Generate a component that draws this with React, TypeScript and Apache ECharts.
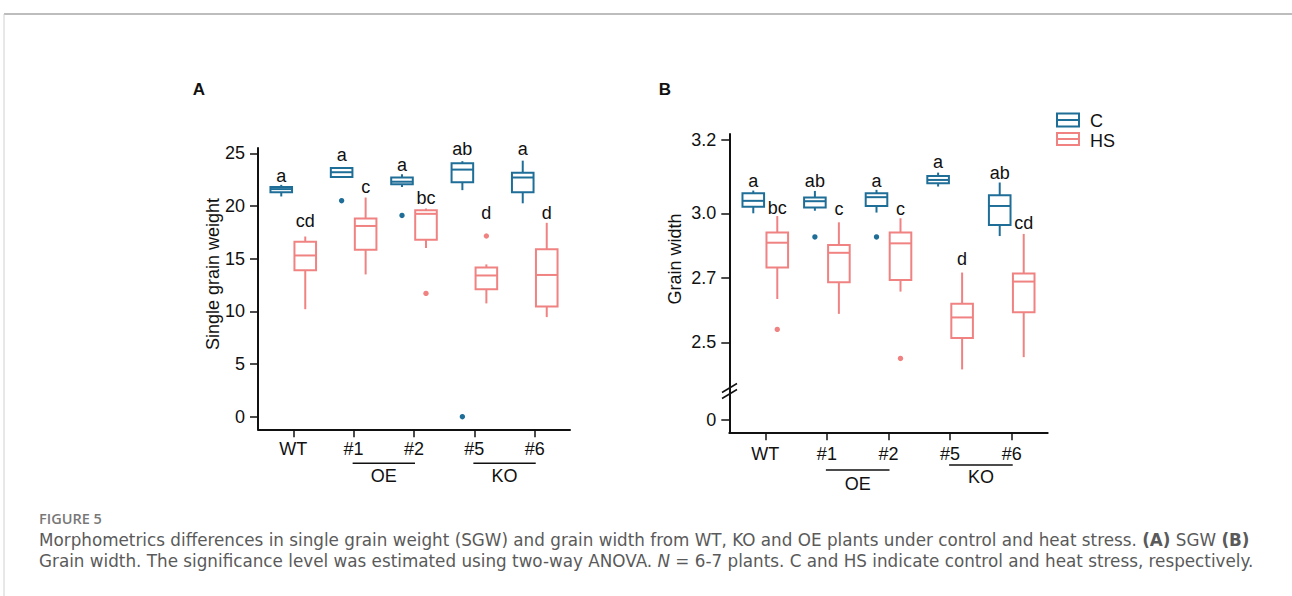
import React, { useEffect, useRef } from "react";
import * as echarts from "echarts";

// ---------- data ----------
const categories = ["WT", "#1", "#2", "#5", "#6"];
const groupNames = ["OE", "KO"];
const groupFrom = [1, 3];
const groupTo = [2, 4];

// Panel A: single grain weight, [min, Q1, median, Q3, max]
const sgwC = [
  [20.9, 21.3, 21.6, 21.8, 22.0],
  [22.7, 22.75, 23.2, 23.6, 23.6],
  [21.8, 22.05, 22.3, 22.7, 23.0],
  [21.5, 22.25, 23.45, 24.05, 24.25],
  [20.25, 21.3, 22.7, 23.15, 24.3],
];
const sgwHS = [
  [10.2, 13.9, 15.3, 16.6, 17.1],
  [13.5, 15.85, 18.1, 18.8, 20.8],
  [16.0, 16.8, 19.25, 19.6, 19.75],
  [10.75, 12.1, 13.4, 14.15, 14.45],
  [9.45, 10.45, 13.45, 15.9, 18.4],
];
const sgwOutC = [[1, 20.5], [2, 19.1], [3, 0]];
const sgwOutHS = [[2, 11.7], [3, 17.15]];
const sgwLettersC = ["a", "a", "a", "ab", "a"];
const sgwLettersHS = ["cd", "c", "bc", "d", "d"];
const sgwLetterAtC = [22.8, 24.8, 23.9, 25.45, 25.45];
const sgwLetterAtHS = [18.6, 21.8, 20.8, 19.3, 19.3];
const sgwTicks = [0, 5, 10, 15, 20, 25];

// Panel B: grain width, [min, Q1, median, Q3, max]
const widthC = [
  [3.0, 3.018, 3.034, 3.055, 3.062],
  [3.007, 3.016, 3.033, 3.043, 3.061],
  [3.002, 3.02, 3.044, 3.055, 3.064],
  [3.073, 3.082, 3.091, 3.102, 3.111],
  [2.894, 2.945, 3.02, 3.049, 3.084],
];
const widthHS = [
  [2.634, 2.748, 2.863, 2.911, 2.987],
  [2.588, 2.686, 2.816, 2.852, 2.958],
  [2.657, 2.693, 2.86, 2.91, 2.977],
  [2.416, 2.513, 2.577, 2.619, 2.724],
  [2.454, 2.593, 2.688, 2.72, 2.904],
];
const widthOutC = [[1, 2.89], [2, 2.89]];
const widthOutHS = [[0, 2.54], [2, 2.45]];
const widthLettersC = ["a", "ab", "a", "a", "ab"];
const widthLettersHS = ["bc", "c", "c", "d", "cd"];
const widthLetterAtC = [3.088, 3.088, 3.088, 3.141, 3.109];
const widthLetterAtHS = [3.015, 3.011, 3.011, 2.787, 2.953];
const widthTicks = [0, 2.5, 2.7, 3.0, 3.2];
const widthTickLabels = ["0", "2.5", "2.7", "3.0", "3.2"];

// ---------- styling / scale helpers ----------
const BLUE = "#1F6E98";
const PINK = "#F08282";
const FONT = "'Liberation Sans', Arial, sans-serif";
const CAP_FONT = "'DejaVu Sans', sans-serif";
const CAP_FS = 16.8;
const FS = 18;

// piecewise scale of the broken grain-width axis (value -> axis units)
const knotsReal = [0, 2.35, 2.5, 2.7, 3.0, 3.2];
const knotsDisp = [0, 29.3, 77.7, 142.3, 206.7, 280];
function brokenScale(v: number): number {
  let i = 0;
  while (i < knotsReal.length - 2 && v > knotsReal[i + 1]) i++;
  const r0 = knotsReal[i], r1 = knotsReal[i + 1];
  const d0 = knotsDisp[i], d1 = knotsDisp[i + 1];
  return d0 + ((v - r0) * (d1 - d0)) / (r1 - r0);
}
const ident = (v: number) => v;

const centered = { align: "center", verticalAlign: "middle", textAlign: "center", textVerticalAlign: "middle" };
const leftMid = { align: "left", verticalAlign: "middle", textAlign: "left", textVerticalAlign: "middle" };

function boxSeries(
  name: string,
  boxes: number[][],
  letters: string[],
  letterAt: number[],
  color: string,
  offset: number,
  axis: number,
  tf: (v: number) => number
) {
  return {
    type: "custom",
    name,
    xAxisIndex: axis,
    yAxisIndex: axis,
    clip: false,
    data: boxes.map((b, i) => [i, ...b.map(tf), tf(letterAt[i])]),
    encode: { x: 0, y: [1, 2, 3, 4, 5] },
    renderItem: (params: any, api: any) => {
      const x = api.value(0);
      const c = (k: number) => api.coord([x, api.value(k)]);
      const pMin = c(1), pQ1 = c(2), pMed = c(3), pQ3 = c(4), pMax = c(5), pL = c(6);
      const cx = pMin[0] + offset;
      const hw = 10.8;
      const st = { stroke: color, lineWidth: 2, fill: "none" };
      return {
        type: "group",
        children: [
          { type: "line", shape: { x1: cx, y1: pMax[1], x2: cx, y2: pQ3[1] }, style: st },
          { type: "line", shape: { x1: cx, y1: pQ1[1], x2: cx, y2: pMin[1] }, style: st },
          {
            type: "rect",
            shape: { x: cx - hw, y: pQ3[1], width: hw * 2, height: pQ1[1] - pQ3[1] },
            style: { stroke: color, lineWidth: 2, fill: "#fff" },
          },
          { type: "line", shape: { x1: cx - hw, y1: pMed[1], x2: cx + hw, y2: pMed[1] }, style: st },
          {
            type: "text",
            x: cx,
            y: pL[1],
            style: { text: letters[params.dataIndex], fill: "#111", font: `${FS}px ${FONT}`, ...centered },
          },
        ],
      };
    },
  };
}

function outlierSeries(name: string, pts: number[][], color: string, offset: number, axis: number, tf: (v: number) => number) {
  return {
    type: "custom",
    name,
    xAxisIndex: axis,
    yAxisIndex: axis,
    clip: false,
    data: pts.map((p) => [p[0], tf(p[1])]),
    encode: { x: 0, y: 1 },
    renderItem: (params: any, api: any) => {
      const p = api.coord([api.value(0), api.value(1)]);
      return { type: "circle", shape: { cx: p[0] + offset, cy: p[1], r: 2.7 }, style: { fill: color } };
    },
  };
}

function groupSeries(axis: number, lineGaps: number[], textGaps: number[]) {
  return {
    type: "custom",
    name: "groups" + axis,
    xAxisIndex: axis,
    yAxisIndex: axis,
    clip: false,
    silent: true,
    data: groupNames.map((g, i) => [groupFrom[i], groupTo[i]]),
    encode: { x: [0, 1] },
    renderItem: (params: any, api: any) => {
      const i = params.dataIndex;
      const cs = params.coordSys;
      const bottom = cs.y + cs.height;
      const a = api.coord([api.value(0), 0])[0];
      const b = api.coord([api.value(1), 0])[0];
      return {
        type: "group",
        children: [
          {
            type: "line",
            shape: { x1: a - 1, y1: bottom + lineGaps[i], x2: b + 1, y2: bottom + lineGaps[i] },
            style: { stroke: "#111", lineWidth: 1.5 },
          },
          {
            type: "text",
            x: (a + b) / 2,
            y: bottom + textGaps[i],
            style: { text: groupNames[i], fill: "#111", font: `${FS}px ${FONT}`, ...centered },
          },
        ],
      };
    },
  };
}

function xAxis(gridIndex: number, margin: number) {
  return {
    type: "value",
    gridIndex,
    min: -0.584,
    max: 4.584,
    splitLine: { show: false },
    axisLine: { show: true, onZero: false, lineStyle: { color: "#111", width: 2 } },
    axisTick: { show: true, length: 8, customValues: [0, 1, 2, 3, 4], lineStyle: { color: "#111", width: 1.5 } },
    axisLabel: {
      customValues: [0, 1, 2, 3, 4],
      formatter: (v: number) => categories[Math.round(v)],
      color: "#111",
      fontSize: FS,
      fontFamily: FONT,
      margin,
    },
  };
}

const dispTicks = widthTicks.map(brokenScale);

const option: any = {
  animation: false,
  backgroundColor: "#fff",
  grid: [
    { left: 258, top: 148, width: 312, height: 281.3 },
    { left: 729.3, top: 134, width: 318.4, height: 298.3 },
  ],
  xAxis: [xAxis(0, 11), xAxis(1, 13)],
  yAxis: [
    {
      type: "value",
      gridIndex: 0,
      min: -1.2,
      max: 25.5,
      splitLine: { show: false },
      axisLine: { show: true, onZero: false, lineStyle: { color: "#111", width: 2 } },
      axisTick: { show: true, length: 8, customValues: sgwTicks, lineStyle: { color: "#111", width: 1.5 } },
      axisLabel: { customValues: sgwTicks, color: "#111", fontSize: FS, fontFamily: FONT, margin: 13 },
    },
    {
      type: "value",
      gridIndex: 1,
      min: -12.3,
      max: 286,
      splitLine: { show: false },
      axisLine: { show: true, onZero: false, lineStyle: { color: "#111", width: 2 } },
      axisTick: { show: true, length: 8, customValues: dispTicks, lineStyle: { color: "#111", width: 1.5 } },
      axisLabel: {
        customValues: dispTicks,
        formatter: (v: number) => {
          let best = 0;
          dispTicks.forEach((d, i) => {
            if (Math.abs(d - v) < Math.abs(dispTicks[best] - v)) best = i;
          });
          return widthTickLabels[best];
        },
        color: "#111",
        fontSize: FS,
        fontFamily: FONT,
        margin: 13,
      },
    },
  ],
  series: [
    boxSeries("C", sgwC, sgwLettersC, sgwLetterAtC, BLUE, -12, 0, ident),
    boxSeries("HS", sgwHS, sgwLettersHS, sgwLetterAtHS, PINK, 12, 0, ident),
    outlierSeries("C outliers", sgwOutC, BLUE, -12, 0, ident),
    outlierSeries("HS outliers", sgwOutHS, PINK, 12, 0, ident),
    groupSeries(0, [34, 34], [47, 47]),
    boxSeries("C", widthC, widthLettersC, widthLetterAtC, BLUE, -12, 1, brokenScale),
    boxSeries("HS", widthHS, widthLettersHS, widthLetterAtHS, PINK, 12, 1, brokenScale),
    outlierSeries("C outliers", widthOutC, BLUE, -12, 1, brokenScale),
    outlierSeries("HS outliers", widthOutHS, PINK, 12, 1, brokenScale),
    groupSeries(1, [37.7, 32.7], [51.7, 45]),
  ],
  graphic: [
    // page frame
    { type: "line", shape: { x1: 4, y1: 14, x2: 1292, y2: 14 }, style: { stroke: "#bdbdbd", lineWidth: 2 } },
    { type: "line", shape: { x1: 4, y1: 14, x2: 4, y2: 596 }, style: { stroke: "#d0d0d0", lineWidth: 1 } },
    // panel letters
    { type: "text", x: 199, y: 89, style: { text: "A", font: `bold 17px ${FONT}`, fill: "#111", ...centered } },
    { type: "text", x: 665, y: 89, style: { text: "B", font: `bold 17px ${FONT}`, fill: "#111", ...centered } },
    // y axis titles
    { type: "text", x: 213, y: 274, rotation: Math.PI / 2, style: { text: "Single grain weight", font: `${FS}px ${FONT}`, fill: "#111", ...centered } },
    { type: "text", x: 675, y: 259, rotation: Math.PI / 2, style: { text: "Grain width", font: `${FS}px ${FONT}`, fill: "#111", ...centered } },
    // axis break
    { type: "polygon", shape: { points: [[722, 392.5], [737, 383.5], [737, 389.5], [722, 398.5]] }, style: { fill: "#fff" } },
    { type: "line", shape: { x1: 722, y1: 392.5, x2: 737, y2: 383.5 }, style: { stroke: "#111", lineWidth: 1.5 } },
    { type: "line", shape: { x1: 722, y1: 398.5, x2: 737, y2: 389.5 }, style: { stroke: "#111", lineWidth: 1.5 } },
    // legend
    { type: "rect", shape: { x: 1057, y: 113.5, width: 22, height: 13 }, style: { fill: "#fff", stroke: BLUE, lineWidth: 2 } },
    { type: "line", shape: { x1: 1057, y1: 120, x2: 1079, y2: 120 }, style: { stroke: BLUE, lineWidth: 2 } },
    { type: "text", x: 1090, y: 121, style: { text: "C", font: `${FS}px ${FONT}`, fill: "#111", ...leftMid } },
    { type: "rect", shape: { x: 1057, y: 133, width: 22, height: 12 }, style: { fill: "#fff", stroke: PINK, lineWidth: 2 } },
    { type: "line", shape: { x1: 1057, y1: 139, x2: 1079, y2: 139 }, style: { stroke: PINK, lineWidth: 2 } },
    { type: "text", x: 1090, y: 140.5, style: { text: "HS", font: `${FS}px ${FONT}`, fill: "#111", ...leftMid } },
    // caption
    { type: "text", x: 39, y: 518, style: { text: "FIGURE 5", font: `600 14.5px 'Open Sans', sans-serif`, fill: "#787878", ...leftMid } },
    {
      type: "text",
      x: 39,
      y: 540,
      style: {
        text: "Morphometrics differences in single grain weight (SGW) and grain width from WT, KO and OE plants under control and heat stress. {b|(A)} SGW {b|(B)}",
        fontFamily: CAP_FONT,
        fontSize: CAP_FS,
        lineHeight: 19,
        fill: "#5a5a5a",
        ...leftMid,
        rich: { b: { fontWeight: "bold", fontFamily: CAP_FONT, fontSize: CAP_FS, lineHeight: 19, fill: "#5a5a5a" } },
      },
    },
    {
      type: "text",
      x: 39,
      y: 560.5,
      style: {
        text: "Grain width. The significance level was estimated using two-way ANOVA. {i|N} = 6-7 plants. C and HS indicate control and heat stress, respectively.",
        fontFamily: CAP_FONT,
        fontSize: CAP_FS,
        lineHeight: 19,
        fill: "#5a5a5a",
        ...leftMid,
        rich: { i: { fontStyle: "italic", fontFamily: CAP_FONT, fontSize: CAP_FS, lineHeight: 19, fill: "#5a5a5a" } },
      },
    },
  ],
};

export default function App() {
  const ref = useRef<HTMLDivElement>(null);
  useEffect(() => {
    const chart = echarts.init(ref.current!, null, { renderer: "svg" });
    chart.setOption(option);
    return () => chart.dispose();
  }, []);
  return (
    <div
      ref={ref}
      style={{ position: "absolute", left: 0, top: 0, width: 1292, height: 596, background: "#fff" }}
    />
  );
}
